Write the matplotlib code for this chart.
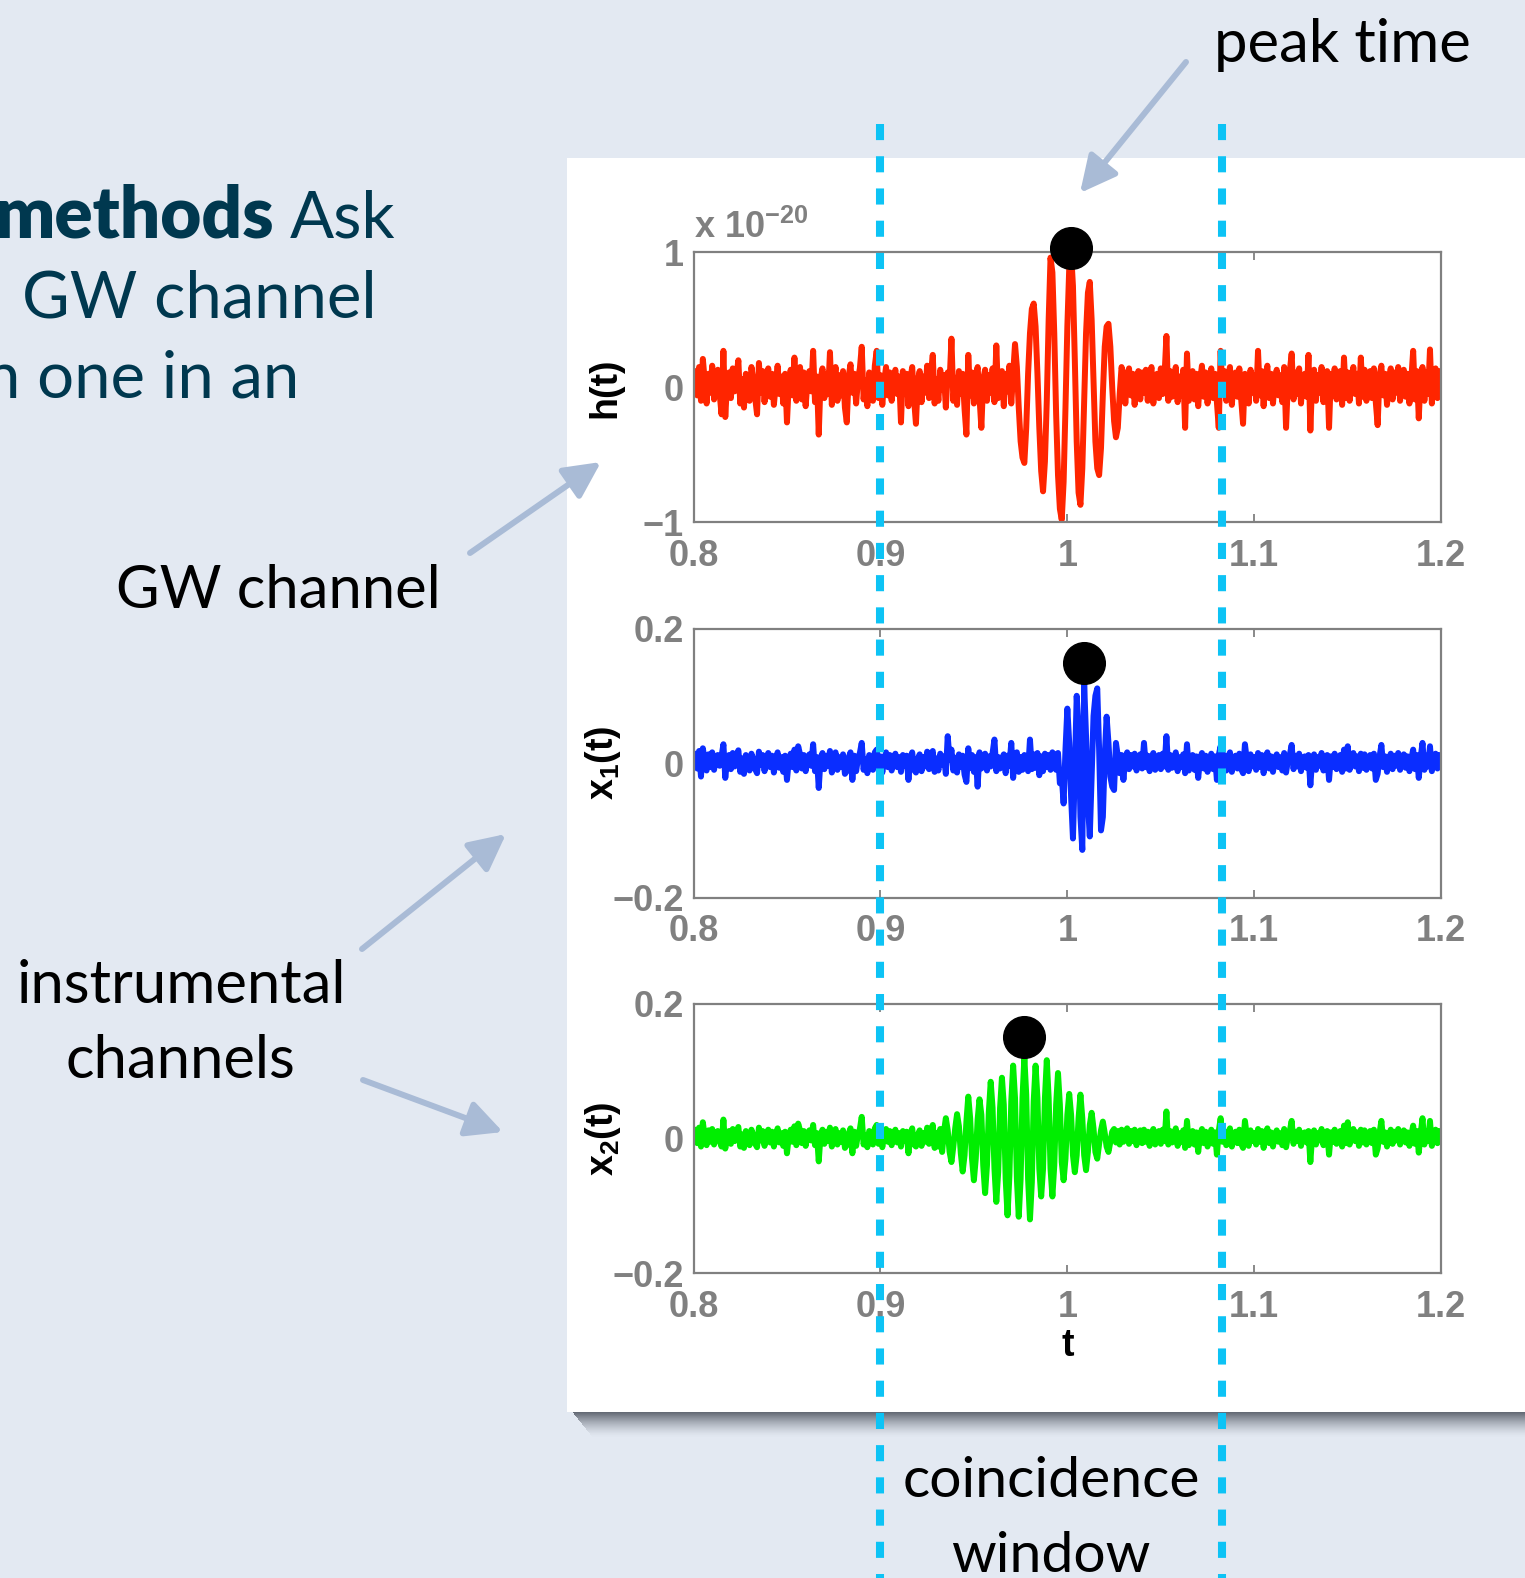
import numpy as np
import matplotlib.pyplot as plt
from matplotlib.lines import Line2D
from matplotlib.patches import Rectangle, FancyArrowPatch

plt.rcParams['mathtext.fontset'] = 'custom'
plt.rcParams['mathtext.rm'] = 'Liberation Sans:bold'
plt.rcParams['mathtext.bf'] = 'Liberation Sans:bold'

W, H = 1525, 1578

# sampled channels, 1 ms step from t = 0.8 to 1.2
t_start, t_stop = 0.8, 1.2

# GW channel, in units of 1e-20
h_t = [
    .02, .12, -.06, .15, -.1, .21, .05, -.12, .1, -.04, .16, -.09, .07, .13, -.05, -.2, .27, -.22, .04, .11,
    -.08, .14, -.03, .09, .2, -.12, .06, -.15, .1, .03, -.1, .15, .05, -.08, -.2, .18, -.04, .12, -.11, .06,
    .14, -.07, .1, -.13, .02, .16, -.05, .08, -.12, .1, -.26, .04, .13, -.06, .22, -.1, .07, .15, -.09, .11,
    -.14, .05, .12, -.03, .27, -.11, .08, -.35, .06, .14, -.08, .1, -.05, .26, -.13, .03, .15, -.1, .09, -.06,
    .12, -.15, -.26, .08, .17, -.04, .1, -.12, .06, .14, .3, -.09, .05, -.14, .11, .02, -.1, .16, .27, -.08,
    .09, -.13, .04, .15, -.06, .11, -.1, .07, .13, -.05, .08, -.26, .12, -.03, .1, -.14, .06, .15, -.09, -.27,
    .05, .12, -.11, .08, -.04, .16, -.08, .1, .24, -.12, .06, -.1, .13, -.02, .09, -.15, .11, .04, .36, -.1,
    .07, -.13, .12, -.05, .1, -.16, -.35, .24, -.06, .11, -.12, .08, .15, -.07, -.3, .06, .13, -.1, .09, -.04,
    .14, -.11, .31, -.08, .05, .12, -.14, .1, -.03, .16, -.12, .1, .32, .15, -.15, -.4, -.52, -.56, -.3, .1,
    .4, .58, .62, .45, .1, -.3, -.62, -.77, -.55, -.1, .5, .96, .85, .4, -.2, -.65, -.9, -.98, -.7, -.15,
    .45, .88, 1.0, .75, .2, -.4, -.78, -.87, -.6, -.1, .4, .7, .78, .5, .05, -.4, -.6, -.65, -.45, -.05,
    .3, .45, .47, .3, 0, -.25, -.37, -.3, -.05, .15, .1, -.12, .08, .14, -.06, .1, -.13, .05, .12, -.09,
    .11, -.04, .13, -.1, .07, .15, -.12, .06, .1, -.08, .14, -.05, .09, .38, -.1, .12, -.07, .04, .15, -.11,
    .08, -.06, .13, -.3, .25, -.1, .06, .12, -.09, .1, -.14, .05, .16, -.07, .11, -.12, .03, .14, -.08, .1,
    -.11, -.3, .27, -.05, .12, -.1, .08, .15, -.13, .06, .11, -.07, .14, -.09, -.27, .1, .05, -.12, .13, -.04,
    .09, -.1, .27, -.06, .12, -.14, .07, .16, -.08, .1, -.12, .05, .13, -.06, .09, -.11, .15, -.3, .04, .12,
    .25, -.09, .11, -.05, .14, -.12, .08, .1, -.07, .24, -.32, .06, .13, -.1, .09, -.04, .15, -.11, .07, .12,
    -.3, .1, -.06, .14, -.09, .05, .12, -.13, .22, -.08, .11, -.1, .07, .15, -.05, .1, -.12, .22, -.07, .13,
    -.1, .06, .12, -.08, .14, -.11, -.28, .09, .16, -.06, .1, -.13, .05, .14, -.09, .11, -.04, .15, -.1, .08,
    .13, -.07, .1, -.12, .06, .27, -.09, .12, -.23, .08, .15, -.1, .11, -.05, .28, -.12, .09, .14, -.08, .12,
    .03,
]

# first instrumental channel
x1_t = [
    .005, .014, -.008, .018, -.02, .022, .004, -.011, .013, -.006, .016, -.01, .008, .012, -.004, .01, .028, -.022, .006, .012,
    -.009, .015, -.005, .011, .019, -.013, .007, -.016, .012, .003, -.011, .014, .006, -.009, -.015, .017, -.003, .012, -.012, .008,
    .015, -.006, .011, -.014, .004, .016, -.007, .009, -.013, .011, -.025, .005, .014, -.006, .02, -.011, .025, .013, -.008, .012,
    -.012, .006, .013, -.004, .028, -.012, .009, -.037, .007, .015, -.009, .011, -.004, .018, -.014, .005, .016, -.01, .009, -.006,
    .013, -.016, -.012, .008, .016, -.025, .011, -.012, .007, .015, .03, -.01, .006, -.015, .012, .003, -.01, .016, .02, -.009,
    .01, -.014, .005, .016, -.006, .012, -.011, .008, .014, -.006, .009, -.013, .012, -.004, .011, -.025, .007, .016, -.01, -.014,
    .006, .013, -.012, .009, -.005, .017, -.009, .011, .018, -.013, .007, -.011, .014, -.003, .01, -.016, .04, .005, .02, -.011,
    .008, -.014, .013, -.006, .011, -.017, -.028, .022, -.007, .012, -.013, .009, -.035, .016, -.008, .007, .014, -.011, .01, -.005,
    .015, .035, -.012, .009, -.008, .006, .013, -.015, .011, -.004, .03, -.022, .011, .016, -.013, .009, -.01, .012, .006, -.012,
    .035, -.009, .013, -.007, .015, -.018, .01, -.012, .014, -.006, .012, -.01, .016, .012, -.01, .015, -.03, -.02, -.06, .02,
    .081, .03, -.05, -.112, -.01, .1, .05, -.08, -.129, .118, .04, -.06, -.109, -.02, .07, .1, .111, .02, -.1, -.08,
    .01, .069, .03, -.02, -.035, -.04, .03, .01, -.015, .012, -.025, .008, .016, -.009, .012, -.005, .014, -.011, .008, .013,
    -.008, .03, -.006, .011, -.012, .009, .015, -.01, .006, .012, -.009, .014, -.005, .04, -.01, .012, -.007, .005, .016, -.012,
    .009, -.006, .013, -.015, .028, -.011, .007, .012, -.01, .01, -.022, .006, .015, -.008, .011, -.013, .004, .014, -.009, .01,
    -.025, .012, .025, -.006, .012, -.011, .008, .016, -.013, .006, .011, -.008, .014, -.009, -.015, .028, .005, -.012, .013, -.005,
    .009, -.01, .015, -.006, .012, -.015, .007, .016, -.008, .01, -.013, .005, .013, -.006, .009, -.011, .015, -.014, .004, .012,
    .027, -.009, .011, -.005, .014, -.012, .008, .01, -.007, .012, -.033, .006, .013, -.01, .009, -.004, .015, -.011, .007, .012,
    -.025, .01, -.006, .014, -.009, .005, .012, -.013, .02, -.008, .025, -.01, .007, .015, -.005, .01, -.012, .014, -.007, .013,
    -.01, .006, .012, -.008, .014, -.025, -.016, .009, .027, -.006, .01, -.013, .005, .014, -.009, .011, -.004, .015, -.01, .008,
    .013, -.007, .01, -.012, .006, .02, -.009, .012, -.022, .008, .03, -.01, .011, -.005, .025, -.012, .009, .014, -.008, .012,
    .004,
]

# second instrumental channel
x2_t = [
    .004, .013, -.007, .016, -.012, .024, .003, -.01, .012, -.005, .014, -.009, .007, .011, -.004, -.012, .028, -.015, .005, .011,
    -.008, .014, -.004, .01, .017, -.012, .006, -.014, .011, .002, -.01, .013, .005, -.008, -.013, .016, -.003, .011, -.011, .007,
    .013, -.006, .01, -.012, .003, .015, -.006, .008, -.011, .01, -.022, .004, .013, -.005, .018, -.01, .022, .012, -.007, .011,
    -.011, .005, .012, -.003, .02, -.01, .008, -.034, .006, .013, -.008, .01, -.004, .016, -.012, .004, .014, -.009, .008, -.005,
    .012, -.014, -.01, .007, .015, -.022, .01, -.011, .006, .014, .032, -.009, .005, -.013, .011, .003, -.009, .015, .02, -.008,
    .009, -.013, .004, .014, -.005, .011, -.01, .007, .013, -.006, .008, -.012, .011, -.004, .01, -.022, .006, .015, -.009, -.012,
    .005, .012, -.011, .008, -.005, .016, -.008, .01, .02, -.014,
    .008, -.012, .014, -.02, .01, .03, .012, -.02, -.035, -.012,
    .015, .036, .018, -.022, -.049, -.025, .025, .062, .03, -.03,
    -.062, -.03, .028, .058, .035, -.04, -.081, -.04, .04, .084,
    .045, -.045, -.094, -.05, .045, .09, .05, -.06, -.114, -.055,
    .055, .108, .06, -.06, -.116, -.06, .06, .12, .065, -.06,
    -.12, -.065, .055, .108, .06, -.045, -.086, -.045, .06, .116,
    .06, -.045, -.086, -.04, .05, .097, .05, -.035, -.062, -.03,
    .035, .066, .035, -.025, -.05, -.025, .03, .065, .03, -.025,
    -.047, -.02, .02, .038, .015, -.02, -.03, -.008, .012, .025,
    .008, -.012, -.02, -.005, .01, .014, -.006, .011, -.009, .013, -.005, .01, .015, -.008, .011, -.004, .013, -.01, .007, .012,
    -.007, .013, -.005, .01, -.011, .008, .014, -.009, .005, .011, -.008, .013, -.004, .04, -.009, .011, -.006, .004, .015, -.011,
    .008, -.005, .012, -.014, .026, -.01, .006, .011, -.009, .009, -.02, .005, .014, -.007, .01, -.012, .003, .013, -.008, .009,
    -.024, .011, .03, -.005, .011, -.01, .007, .015, -.012, .005, .01, -.007, .013, -.008, -.014, .026, .004, -.011, .012, -.004,
    .008, -.009, .014, -.005, .011, -.014, .006, .015, -.007, .009, -.012, .004, .012, -.005, .008, -.01, .014, -.013, .003, .011,
    .026, -.008, .01, -.004, .013, -.011, .007, .009, -.006, .011, -.035, .005, .012, -.009, .008, -.003, .014, -.01, .006, .011,
    -.024, .009, -.005, .013, -.008, .004, .011, -.012, .019, -.007, .024, -.009, .006, .014, -.004, .009, -.011, .013, -.006, .012,
    -.009, .005, .011, -.007, .013, -.024, -.015, .008, .026, -.005, .009, -.012, .004, .013, -.008, .01, -.003, .014, -.009, .007,
    .012, -.006, .009, -.011, .005, .019, -.008, .011, -.021, .007, .03, -.009, .01, -.004, .026, -.011, .008, .013, -.007, .011,
    .003,
]

assert len(h_t) == len(x1_t) == len(x2_t) == 401

x_ticks = [0.8, 0.9, 1.0, 1.1, 1.2]
x_ticklabels = ['0.8', '0.9', '1', '1.1', '1.2']
window = [0.9, 1.0825]

channel_data = [h_t, x1_t, x2_t]
channel_colors = ['#FF2500', '#0A2DFF', '#00EE00']
channel_labels = ['h(t)', r'$\mathbf{x_1(t)}$', r'$\mathbf{x_2(t)}$']
channel_ylim = [(-1, 1), (-0.2, 0.2), (-0.2, 0.2)]
channel_yticks = [[-1, 0, 1], [-0.2, 0, 0.2], [-0.2, 0, 0.2]]
channel_yticklabels = [['\u22121', '0', '1'], ['\u22120.2', '0', '0.2'], ['\u22120.2', '0', '0.2']]
peak_pad = [0.03, 0.03, 0.03]

# pixel boxes (left, top, right, bottom) of the three panels
axes_px = [(693.5, 252.2, 1441.2, 522.4),
           (693.5, 628.5, 1441.2, 897.7),
           (693.5, 1003.5, 1441.2, 1273.4)]


def fx(px):
    return px / W


def fy(py):
    return 1 - py / H


bg = '#E3E9F2'
teal = '#00384F'
gray = '#808080'
arrow_col = '#A9BBD6'
cyan = '#0DC3F5'
slide_font = ['Lato', 'DejaVu Sans']
axis_font = ['Liberation Sans', 'DejaVu Sans']

fig = plt.figure(figsize=(W / 100, H / 100), dpi=100, facecolor=bg)

# white plot card with its drop shadow
for k in range(26):
    a = 0.8 * (1 - k / 26) ** 1.5
    fig.add_artist(Rectangle((fx(572 + k * 0.8), fy(1412 + k)), 1.0, 1 / H, transform=fig.transFigure,
                             facecolor='#3A404C', edgecolor='none', alpha=a, zorder=-6))
fig.add_artist(Rectangle((fx(567), fy(1411.5)), 1.0, (1411.5 - 158) / H, transform=fig.transFigure,
                         facecolor='white', edgecolor='none', zorder=-5))

axes = []
t = np.linspace(t_start, t_stop, len(h_t))
for i, (l, tp, r, b) in enumerate(axes_px):
    ax = fig.add_axes([fx(l), fy(b), (r - l) / W, (b - tp) / H])
    vals = np.array(channel_data[i])
    ax.plot(t, vals, color=channel_colors[i], lw=4.3)
    k = int(np.argmax(vals))
    ax.plot(t[k], vals[k] + peak_pad[i], 'o', ms=30, color='black', clip_on=False, zorder=5)

    ax.set_xlim(t_start, t_stop)
    ax.set_ylim(*channel_ylim[i])
    ax.set_xticks(x_ticks)
    ax.set_xticklabels(x_ticklabels, fontsize=26, fontweight='bold', family=axis_font, color=gray)
    ax.set_yticks(channel_yticks[i])
    ax.set_yticklabels(channel_yticklabels[i], fontsize=26, fontweight='bold', family=axis_font, color=gray)
    ax.tick_params(direction='in', length=6, width=1.3, color=gray, top=True, right=True)
    ax.tick_params(axis='x', pad=12)
    ax.tick_params(axis='y', pad=7)
    for s in ax.spines.values():
        s.set_color(gray)
        s.set_linewidth(1.6)
    ax.set_ylabel(channel_labels[i], fontsize=27, fontweight='bold', family=axis_font, color='black')
    ax.yaxis.set_label_coords(-0.094, 0.5)
    axes.append(ax)

axes[0].text(0.0, (522.4 - 238) / 270.2, r'x 10$^{\mathbf{-20}}$', transform=axes[0].transAxes,
             ha='left', va='baseline', fontsize=26, fontweight='bold', family=axis_font, color=gray)
axes[2].set_xlabel('t', fontsize=27, fontweight='bold', family=axis_font, color='black')
axes[2].xaxis.set_label_coords(0.5, -(1328 - 1273.4) / 269.9)

# coincidence window edges, running across the whole slide
for tw in window:
    xd = axes[2].transData.transform((tw, 0))[0]
    fig.add_artist(Line2D([xd / W, xd / W], [fy(124), fy(1600)], transform=fig.transFigure,
                          color=cyan, lw=5.8, dashes=(2, 2), dash_capstyle='butt', zorder=20))

# slide text
fig.text(fx(274), fy(237), 'methods', ha='right', va='baseline', fontsize=51, fontweight='heavy',
         family=slide_font, color=teal)
fig.text(fx(290), fy(237), 'Ask', ha='left', va='baseline', fontsize=47, family=slide_font, color=teal)
fig.text(fx(22), fy(317), 'GW channel', ha='left', va='baseline', fontsize=47, family=slide_font, color=teal)
fig.text(fx(299), fy(397), 'n one in an', ha='right', va='baseline', fontsize=47, family=slide_font, color=teal)

fig.text(fx(278), fy(608), 'GW channel', ha='center', va='baseline', fontsize=43, family=slide_font, color='black')
fig.text(fx(181), fy(1003), 'instrumental', ha='center', va='baseline', fontsize=43, family=slide_font,
         color='black')
fig.text(fx(180), fy(1078), 'channels', ha='center', va='baseline', fontsize=43, family=slide_font, color='black')
fig.text(fx(1214), fy(62), 'peak time', ha='left', va='baseline', fontsize=43, family=slide_font, color='black')
fig.text(fx(1051), fy(1497), 'coincidence', ha='center', va='baseline', fontsize=41, family=slide_font,
         color='black')
fig.text(fx(1051), fy(1572), 'window', ha='center', va='baseline', fontsize=41, family=slide_font, color='black')

# callout arrows
arrows = [((1186, 62), (1080, 193)),
          ((470, 553), (601, 462)),
          ((362, 949), (506, 834)),
          ((363, 1080), (503, 1132))]
for (x0, y0), (x1, y1) in arrows:
    fig.add_artist(FancyArrowPatch((fx(x0), fy(y0)), (fx(x1), fy(y1)), transform=fig.transFigure,
                                   arrowstyle='-|>,head_length=1.1,head_width=0.55', mutation_scale=20,
                                   lw=4.3, color=arrow_col, shrinkA=0, shrinkB=0, zorder=15))

fig.savefig('out.png', dpi=100, facecolor=bg)
